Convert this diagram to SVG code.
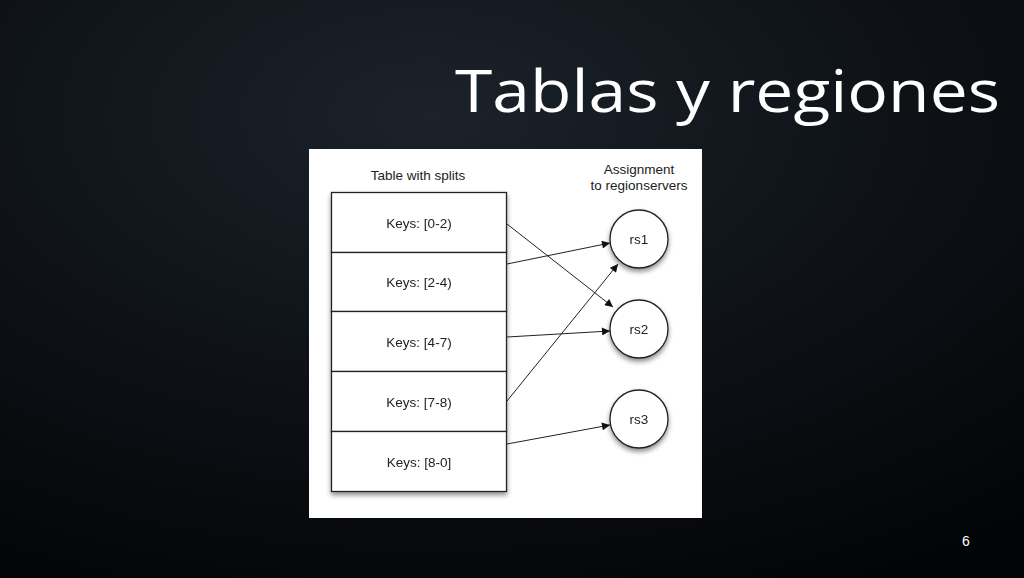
<svg xmlns="http://www.w3.org/2000/svg" width="1024" height="578" viewBox="0 0 1024 578">
<defs>
<radialGradient id="bg" cx="0.42" cy="0.2" r="0.9">
<stop offset="0" stop-color="#1b222a"/>
<stop offset="0.55" stop-color="#0d1116"/>
<stop offset="1" stop-color="#030405"/>
</radialGradient>
<filter id="sh" x="-20%" y="-20%" width="140%" height="140%">
<feDropShadow dx="0" dy="3" stdDeviation="2.5" flood-color="#000" flood-opacity="0.45"/>
</filter>
<marker id="ah" viewBox="0 0 10 10" refX="10" refY="5" markerWidth="10" markerHeight="8" markerUnits="userSpaceOnUse" orient="auto">
<path d="M0,0 L10,5 L0,10 z" fill="#111"/>
</marker>
<style>
.lbl{font-family:"Liberation Sans",Arial,sans-serif;font-size:13.5px;fill:#222;text-anchor:middle}
.cell{fill:#fff;stroke:#222;stroke-width:1.3}
.circ{fill:#fff;stroke:#222;stroke-width:1.3}
.conn{stroke:#222;stroke-width:1;fill:none;marker-end:url(#ah)}
</style>
</defs>
<rect width="1024" height="578" fill="url(#bg)"/>
<text x="1000" y="112" text-anchor="end" font-family="'Open Sans','Noto Sans',sans-serif" font-size="58" font-weight="400" fill="#fff" textLength="545" lengthAdjust="spacingAndGlyphs">Tablas y regiones</text>
<text x="966" y="546" text-anchor="middle" font-family="'Liberation Sans',Arial,sans-serif" font-size="14" fill="#fff">6</text>
<rect x="309" y="149" width="393" height="369" fill="#fff"/>
<text class="lbl" x="418" y="180">Table with splits</text>
<text class="lbl" x="639" y="174">Assignment</text>
<text class="lbl" x="639" y="190">to regionservers</text>
<g id="table" filter="url(#sh)">
<g id="row1"><rect class="cell" x="331.5" y="192.5" width="175" height="60"/><text class="lbl" x="419" y="228">Keys: [0-2)</text></g>
<g id="row2"><rect class="cell" x="331.5" y="252.5" width="175" height="59"/><text class="lbl" x="419" y="287">Keys: [2-4)</text></g>
<g id="row3"><rect class="cell" x="331.5" y="311.5" width="175" height="60"/><text class="lbl" x="419" y="347">Keys: [4-7)</text></g>
<g id="row4"><rect class="cell" x="331.5" y="371.5" width="175" height="60"/><text class="lbl" x="419" y="407">Keys: [7-8)</text></g>
<g id="row5"><rect class="cell" x="331.5" y="431.5" width="175" height="60"/><text class="lbl" x="419" y="467">Keys: [8-0]</text></g>
</g>
<g id="rs1" filter="url(#sh)"><circle class="circ" cx="639" cy="239" r="29"/><text class="lbl" x="639" y="244">rs1</text></g>
<g id="rs2" filter="url(#sh)"><circle class="circ" cx="639" cy="329" r="29"/><text class="lbl" x="639" y="334">rs2</text></g>
<g id="rs3" filter="url(#sh)"><circle class="circ" cx="639" cy="419" r="29"/><text class="lbl" x="639" y="424">rs3</text></g>
<g id="connectors">
<line class="conn" x1="507" y1="224" x2="613" y2="307"/>
<line class="conn" x1="507" y1="264" x2="610" y2="243"/>
<line class="conn" x1="507" y1="337" x2="610" y2="331"/>
<line class="conn" x1="507" y1="401" x2="618" y2="264"/>
<line class="conn" x1="507" y1="444" x2="610" y2="425"/>
</g>
</svg>
